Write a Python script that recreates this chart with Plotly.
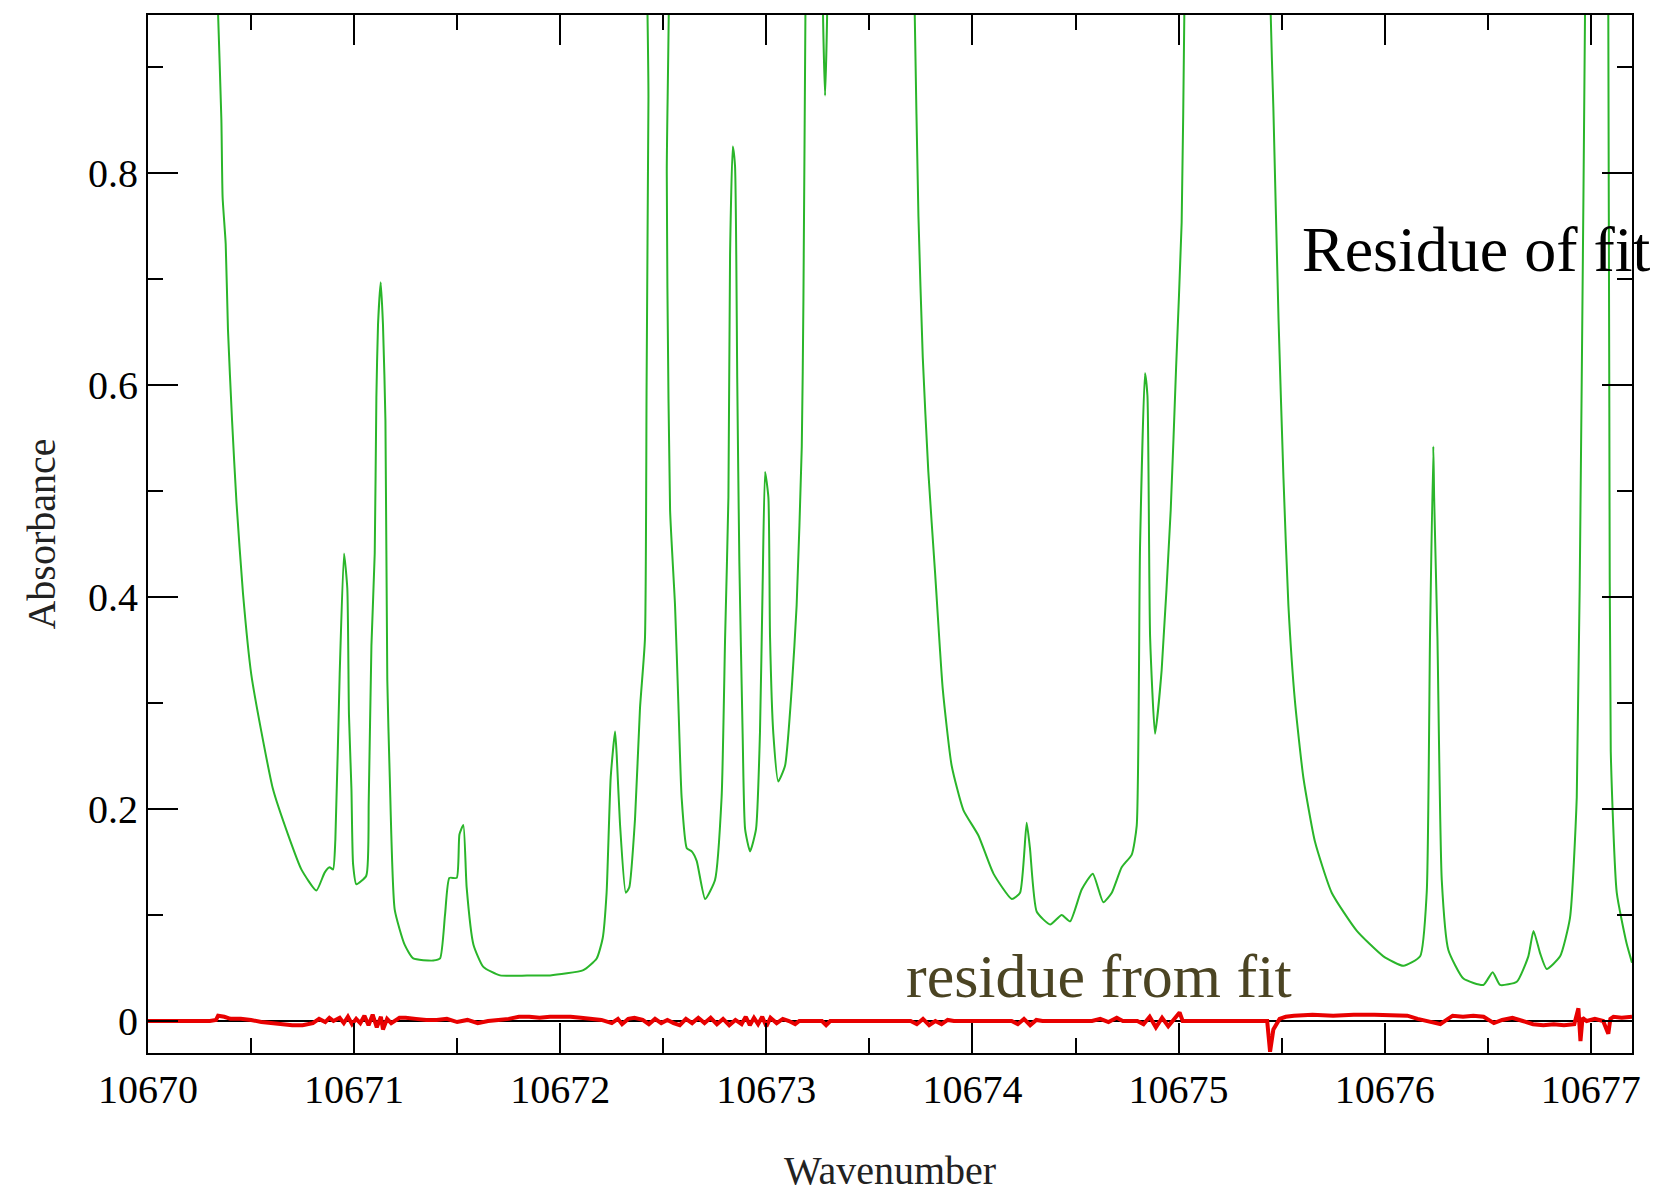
import plotly.graph_objects as go

# ---- green absorbance spectrum (values above 0.95 run off the top of the frame) ----
wn_abs = [
    10670.300, 10670.340, 10670.356, 10670.362, 10670.377, 10670.388, 10670.408, 10670.429,
    10670.461, 10670.501, 10670.550, 10670.606, 10670.679, 10670.744, 10670.817, 10670.857,
    10670.881, 10670.898, 10670.909, 10670.930, 10670.951, 10670.967, 10670.975, 10670.987,
    10670.995, 10671.011, 10671.059, 10671.071, 10671.084, 10671.100, 10671.108, 10671.116,
    10671.129, 10671.140, 10671.152, 10671.161, 10671.173, 10671.197, 10671.245, 10671.287,
    10671.384, 10671.417, 10671.441, 10671.462, 10671.498, 10671.511, 10671.530, 10671.546,
    10671.579, 10671.627, 10671.708, 10671.870, 10671.951, 10672.112, 10672.177, 10672.206,
    10672.225, 10672.245, 10672.266, 10672.274, 10672.290, 10672.318, 10672.335, 10672.363,
    10672.387, 10672.411, 10672.419, 10672.428, 10672.440, 10672.505, 10672.517, 10672.520,
    10672.533, 10672.557, 10672.573, 10672.589, 10672.614, 10672.638, 10672.662, 10672.703,
    10672.751, 10672.783, 10672.800, 10672.816, 10672.824, 10672.837, 10672.848, 10672.859,
    10672.869, 10672.885, 10672.897, 10672.921, 10672.950, 10672.969, 10672.982, 10672.994,
    10673.010, 10673.018, 10673.034, 10673.058, 10673.091, 10673.123, 10673.147, 10673.172,
    10673.180, 10673.190, 10673.200, 10673.265, 10673.275, 10673.285, 10673.295, 10673.305,
    10673.705, 10673.720, 10673.738, 10673.759, 10673.786, 10673.819, 10673.856, 10673.899,
    10673.956, 10674.029, 10674.102, 10674.191, 10674.231, 10674.263, 10674.279, 10674.312,
    10674.377, 10674.433, 10674.474, 10674.530, 10674.584, 10674.635, 10674.676, 10674.724,
    10674.773, 10674.797, 10674.813, 10674.837, 10674.849, 10674.862, 10674.886, 10674.918,
    10674.962, 10674.988, 10675.015, 10675.028, 10675.040, 10675.440, 10675.447, 10675.460,
    10675.485, 10675.509, 10675.533, 10675.565, 10675.606, 10675.662, 10675.743, 10675.865,
    10675.994, 10676.091, 10676.172, 10676.204, 10676.220, 10676.236, 10676.240, 10676.256,
    10676.277, 10676.309, 10676.382, 10676.479, 10676.524, 10676.560, 10676.641, 10676.697,
    10676.722, 10676.754, 10676.786, 10676.851, 10676.899, 10676.932, 10676.956, 10676.972,
    10676.980, 10677.080, 10677.085, 10677.090, 10677.097, 10677.126, 10677.174, 10677.200,
]
absorbance = [
    1.20, 0.95, 0.85, 0.777, 0.733, 0.652, 0.566, 0.490,
    0.403, 0.327, 0.273, 0.219, 0.176, 0.143, 0.123, 0.140,
    0.145, 0.143, 0.171, 0.327, 0.441, 0.408, 0.289, 0.219,
    0.148, 0.129, 0.137, 0.208, 0.354, 0.441, 0.588, 0.657,
    0.697, 0.657, 0.566, 0.322, 0.230, 0.105, 0.072, 0.059,
    0.057, 0.059, 0.100, 0.135, 0.135, 0.176, 0.185, 0.126,
    0.072, 0.051, 0.043, 0.043, 0.043, 0.048, 0.059, 0.078,
    0.121, 0.230, 0.273, 0.251, 0.186, 0.121, 0.126, 0.191,
    0.295, 0.360, 0.598, 0.869, 1.20, 1.20, 0.80, 0.692,
    0.482, 0.392, 0.301, 0.211, 0.163, 0.160, 0.151, 0.115,
    0.133, 0.211, 0.362, 0.494, 0.723, 0.825, 0.807, 0.602,
    0.434, 0.271, 0.181, 0.160, 0.181, 0.271, 0.410, 0.518,
    0.494, 0.362, 0.271, 0.226, 0.241, 0.313, 0.392, 0.542,
    0.681, 0.96, 1.20, 1.20, 0.95, 0.873, 0.95, 1.20,
    1.20, 0.95, 0.759, 0.626, 0.518, 0.422, 0.313, 0.241,
    0.199, 0.175, 0.139, 0.115, 0.121, 0.187, 0.163, 0.103,
    0.091, 0.100, 0.094, 0.124, 0.139, 0.112, 0.121, 0.145,
    0.157, 0.184, 0.446, 0.611, 0.590, 0.362, 0.271, 0.331,
    0.482, 0.616, 0.753, 0.95, 1.20, 1.20, 0.95, 0.861,
    0.662, 0.512, 0.392, 0.301, 0.229, 0.169, 0.121, 0.085,
    0.061, 0.052, 0.061, 0.121, 0.362, 0.542, 0.494, 0.362,
    0.133, 0.067, 0.040, 0.034, 0.046, 0.034, 0.037, 0.061,
    0.085, 0.064, 0.049, 0.061, 0.097, 0.211, 0.602, 0.95,
    1.20, 1.20, 0.95, 0.578, 0.254, 0.121, 0.073, 0.055,
]

# ---- red residue of the fit ----
wn_res = [
    10670.00, 10670.30, 10670.33, 10670.34, 10670.37, 10670.40, 10670.45, 10670.50,
    10670.55, 10670.60, 10670.65, 10670.70, 10670.75, 10670.80, 10670.83, 10670.86,
    10670.88, 10670.90, 10670.93, 10670.95, 10670.97, 10670.99, 10671.01, 10671.03,
    10671.05, 10671.07, 10671.09, 10671.11, 10671.13, 10671.14, 10671.16, 10671.18,
    10671.22, 10671.25, 10671.30, 10671.35, 10671.40, 10671.45, 10671.50, 10671.55,
    10671.60, 10671.65, 10671.70, 10671.75, 10671.80, 10671.85, 10671.90, 10671.95,
    10672.00, 10672.05, 10672.10, 10672.15, 10672.20, 10672.25, 10672.28, 10672.30,
    10672.33, 10672.36, 10672.40, 10672.43, 10672.46, 10672.49, 10672.52, 10672.55,
    10672.58, 10672.61, 10672.64, 10672.67, 10672.70, 10672.73, 10672.76, 10672.79,
    10672.82, 10672.85, 10672.88, 10672.90, 10672.92, 10672.94, 10672.96, 10672.98,
    10673.00, 10673.02, 10673.05, 10673.08, 10673.11, 10673.14, 10673.16, 10673.20,
    10673.27, 10673.29, 10673.31, 10673.70, 10673.73, 10673.76, 10673.79, 10673.82,
    10673.85, 10673.88, 10673.91, 10674.19, 10674.22, 10674.25, 10674.28, 10674.31,
    10674.34, 10674.58, 10674.62, 10674.66, 10674.70, 10674.73, 10674.80, 10674.83,
    10674.86, 10674.89, 10674.92, 10674.95, 10674.98, 10675.005, 10675.02, 10675.43,
    10675.444, 10675.46, 10675.49, 10675.52, 10675.56, 10675.65, 10675.75, 10675.85,
    10675.95, 10676.05, 10676.11, 10676.16, 10676.21, 10676.27, 10676.30, 10676.33,
    10676.38, 10676.43, 10676.48, 10676.53, 10676.57, 10676.62, 10676.67, 10676.72,
    10676.77, 10676.82, 10676.87, 10676.92, 10676.94, 10676.95, 10676.96, 10676.98,
    10677.02, 10677.06, 10677.085, 10677.095, 10677.11, 10677.15, 10677.20,
]
residue = [
    0.000, 0.000, 0.001, 0.005, 0.004, 0.002, 0.002, 0.001,
    -0.001, -0.002, -0.003, -0.004, -0.004, -0.002, 0.002, -0.001,
    0.003, 0.000, 0.003, -0.002, 0.004, -0.003, 0.002, -0.002,
    0.005, -0.004, 0.006, -0.006, 0.004, -0.008, 0.002, -0.002,
    0.003, 0.003, 0.002, 0.001, 0.001, 0.002, -0.001, 0.001,
    -0.002, 0.000, 0.001, 0.002, 0.004, 0.004, 0.003, 0.004,
    0.004, 0.004, 0.003, 0.002, 0.001, -0.002, 0.002, -0.003,
    0.002, 0.003, 0.001, -0.003, 0.002, -0.002, 0.001, -0.002,
    -0.004, 0.002, -0.002, 0.003, -0.002, 0.003, -0.003, 0.002,
    -0.004, 0.001, -0.003, 0.004, -0.004, 0.003, -0.003, 0.004,
    -0.005, 0.003, -0.002, 0.002, 0.000, -0.003, 0.000, 0.000,
    0.000, -0.004, 0.000, 0.000, -0.003, 0.002, -0.004, 0.000,
    -0.003, 0.001, 0.000, 0.000, -0.003, 0.002, -0.004, 0.001,
    0.000, 0.000, 0.002, -0.001, 0.003, 0.000, 0.000, -0.003,
    0.004, -0.006, 0.003, -0.005, 0.002, 0.008, 0.000, 0.000,
    -0.029, -0.008, 0.002, 0.004, 0.005, 0.006, 0.005, 0.006,
    0.006, 0.005, 0.005, 0.002, 0.000, -0.003, 0.001, 0.005,
    0.004, 0.005, 0.004, -0.002, 0.001, 0.003, 0.000, -0.003,
    -0.004, -0.003, -0.004, -0.003, 0.012, -0.019, 0.003, 0.000,
    0.002, 0.000, -0.012, 0.002, 0.004, 0.003, 0.004,
]

# ---- zero baseline ----
wn_zero = [10670.0, 10677.2]
zero = [0.0, 0.0]

x_range = [10670.0, 10677.2]
y_range = [-0.0302, 0.949]

fig = go.Figure()
fig.add_trace(go.Scatter(x=wn_zero, y=zero, mode="lines",
                         line=dict(color="#000000", width=2), hoverinfo="skip"))
fig.add_trace(go.Scatter(x=wn_abs, y=absorbance, mode="lines",
                         line=dict(color="#2ab52a", width=2, shape="spline", smoothing=0.5)))
fig.add_trace(go.Scatter(x=wn_res, y=residue, mode="lines",
                         line=dict(color="#e80000", width=4)))

axis_common = dict(
    showgrid=False, zeroline=False, showline=True, linecolor="black", linewidth=2,
    mirror="allticks", ticks="inside", ticklen=30, tickwidth=2, tickcolor="black",
    tickfont=dict(family="Liberation Serif", size=40, color="black"),
)

fig.update_xaxes(range=x_range, dtick=1, tick0=10670, tickformat="d",
                 minor=dict(dtick=0.5, ticks="inside", ticklen=15, tickwidth=2, tickcolor="black"),
                 title=dict(text="Wavenumber", font=dict(family="Liberation Serif", size=40, color="#222222"),
                            standoff=55),
                 **axis_common)
fig.update_yaxes(range=y_range, dtick=0.2, tick0=0,
                 minor=dict(dtick=0.1, ticks="inside", ticklen=15, tickwidth=2, tickcolor="black"),
                 title=dict(text="Absorbance", font=dict(family="Liberation Serif", size=40, color="#222222"),
                            standoff=20),
                 **axis_common)

fig.add_annotation(text="Residue of fit", xref="paper", yref="paper",
                   x=(1300 - 148) / 1484, y=(1053 - 250) / 1038, xanchor="left", yanchor="middle",
                   showarrow=False, font=dict(family="Liberation Serif", size=64, color="black"))
fig.add_annotation(text="residue from fit", xref="paper", yref="paper",
                   x=(904 - 148) / 1484, y=(1053 - 976) / 1038, xanchor="left", yanchor="middle",
                   showarrow=False, font=dict(family="Liberation Serif", size=62, color="#4b4423"))

fig.update_layout(
    width=1658, height=1193,
    margin=dict(l=148, r=26, t=15, b=140, autoexpand=False),
    plot_bgcolor="white", paper_bgcolor="white",
    showlegend=False,
)

fig.write_html("out.html")
